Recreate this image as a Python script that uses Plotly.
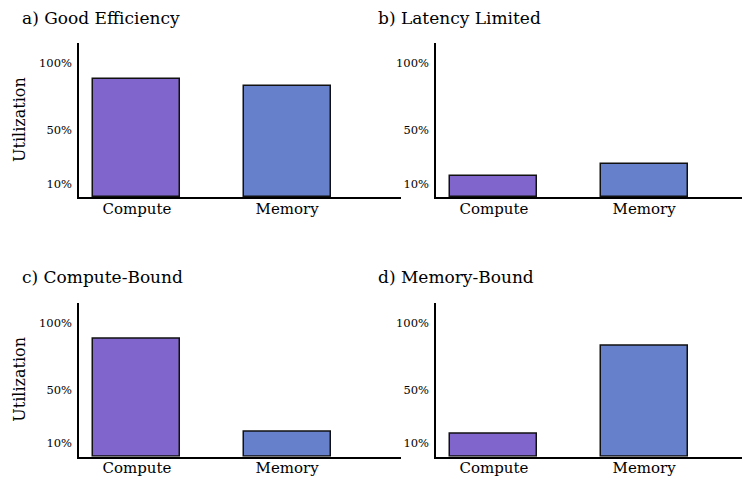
import plotly.graph_objects as go

categories = ["Compute", "Memory"]
panel_titles = ["a) Good Efficiency", "b) Latency Limited", "c) Compute-Bound", "d) Memory-Bound"]
good_efficiency = [88, 83]
latency_limited = [16, 25]
compute_bound = [88, 19]
memory_bound = [17, 83]
tick_vals = [10, 50, 100]
tick_text = ["10%", "50%", "100%"]
bar_colors = ["#8066CC", "#6680CC"]

W, H = 750, 478
FONT = "DejaVu Serif"
OFF = 8  # page body margin

panels = [good_efficiency, latency_limited, compute_bound, memory_bound]
# pixel geometry of plot areas in window coords (left, right, top, bottom)
boxes = [(79, 401, 43, 197), (436, 758, 43, 197), (79, 401, 302.7, 456.7), (436, 758, 302.7, 456.7)]
px_per_unit = 150.3

fig = go.Figure()
for i, (vals, box) in enumerate(zip(panels, boxes)):
    l, r, t, b = [v - OFF for v in box]
    idx = "" if i == 0 else str(i + 1)
    xa = "x" + idx
    ya = "y" + idx
    fig.add_trace(go.Bar(
        x=[0, 1], y=vals, width=0.58,
        marker=dict(color=bar_colors, line=dict(color="#111111", width=1.5)),
        xaxis=xa, yaxis=ya, showlegend=False, hoverinfo="skip",
    ))
    x0 = -0.385
    x1 = x0 + (r - l) / px_per_unit
    fig.layout["xaxis" + idx] = dict(
        domain=[l / W, min(r / W, 1.0)], range=[x0, x1], anchor=ya, automargin=False,
        tickvals=[0, 1], ticktext=categories, showline=True, linecolor="black",
        linewidth=1.5, showgrid=False, zeroline=False, ticks="", ticklabelstandoff=-3,
        tickfont=dict(family=FONT, size=15, color="black"), fixedrange=True,
    )
    fig.layout["yaxis" + idx] = dict(
        domain=[1 - b / H, 1 - t / H], range=[0, 115], anchor=xa, automargin=False,
        tickvals=tick_vals, ticktext=tick_text, showline=True, linecolor="black",
        linewidth=1.5, showgrid=False, zeroline=False, ticks="", ticklabelstandoff=3,
        tickfont=dict(family=FONT, size=11.5, color="black"), fixedrange=True,
    )
    tx = (22 if i % 2 == 0 else 378) - OFF - 2
    ty = (18 if i < 2 else 277) - OFF
    fig.add_annotation(text=panel_titles[i], xref="paper", yref="paper",
                       x=tx / W, y=1 - ty / H, xanchor="left", yanchor="middle",
                       showarrow=False, font=dict(family=FONT, size=17, color="black"))
    if i % 2 == 0:
        fig.add_annotation(text="Utilization", xref="paper", yref="paper",
                           x=(20 - OFF) / W, y=1 - ((t + b) / 2) / H, xanchor="center", yanchor="middle",
                           textangle=-90, showarrow=False,
                           font=dict(family=FONT, size=16, color="black"))

fig.update_layout(width=W, height=H, margin=dict(l=0, r=0, t=0, b=0),
                  plot_bgcolor="white", paper_bgcolor="white", bargap=0)
fig.write_html("out.html")
